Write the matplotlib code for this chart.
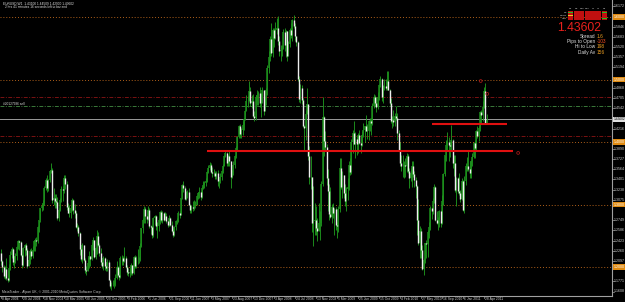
import matplotlib
matplotlib.use("Agg")
import matplotlib.pyplot as plt
import numpy as np
from matplotlib.patches import Rectangle

plt.rcParams['font.family'] = ['Liberation Sans', 'DejaVu Sans']

# ---------------- data: EURUSD weekly bars, Apr 2004 - May 2011 ----------------
first_open = 1.2220

c2004 = [1.2100,1.2000,1.1850,1.1970,1.1830,1.1790,1.1990,1.2200,1.2290,1.2080,1.2140,1.2170,1.2320,1.2410,1.2400,1.2190,1.2030,1.2300,1.2360,1.2280,1.2020,1.2110,1.2250,1.2170,1.2270,1.2420,1.2430,1.2420,1.2640,1.2750,1.2940,1.2970,1.3030,1.3270,1.3400,1.3270,1.3390,1.3530,1.3560]
h2004 = [1.2290,1.2120,1.2040,1.2010,1.2140,1.1960,1.2050,1.2250,1.2320,1.2300,1.2180,1.2220,1.2340,1.2440,1.2440,1.2420,1.2210,1.2320,1.2370,1.2390,1.2300,1.2200,1.2290,1.2300,1.2330,1.2430,1.2460,1.2480,1.2650,1.2760,1.2950,1.3010,1.3080,1.3300,1.3420,1.3470,1.3410,1.3560,1.3670]
l2004 = [1.2030,1.1920,1.1830,1.1810,1.1800,1.1760,1.1780,1.1960,1.2140,1.2030,1.1990,1.2060,1.2120,1.2290,1.2280,1.2170,1.1990,1.2010,1.2170,1.2200,1.1990,1.2010,1.2050,1.2130,1.2140,1.2250,1.2260,1.2330,1.2380,1.2560,1.2720,1.2890,1.2920,1.3000,1.3230,1.3200,1.3220,1.3360,1.3500]

c2005 = [1.3070,1.3110,1.3060,1.3040,1.2790,1.2910,1.3070,1.3250,1.3230,1.3420,1.3330,1.2960,1.2870,1.2870,1.2950,1.3080,1.2920,1.2860,1.2640,1.2640,1.2540,1.2290,1.2130,1.2350,1.2120,1.1950,1.1940,1.2070,1.2170,1.2130,1.2350,1.2430,1.2160,1.2300,1.2500,1.2360,1.2220,1.2080,1.2020,1.2140,1.2020,1.1980,1.2080,1.1800,1.1690,1.1720,1.1720,1.1710,1.1830,1.2000,1.1870,1.1840]
h2005 = [1.3580,1.3270,1.3170,1.3170,1.3120,1.2950,1.3110,1.3290,1.3290,1.3470,1.3480,1.3370,1.3020,1.2990,1.2990,1.3110,1.3090,1.3010,1.2890,1.2700,1.2680,1.2560,1.2310,1.2380,1.2350,1.2140,1.2020,1.2160,1.2250,1.2180,1.2400,1.2480,1.2440,1.2320,1.2590,1.2560,1.2380,1.2310,1.2130,1.2180,1.2160,1.2080,1.2130,1.2110,1.1810,1.1760,1.1800,1.1790,1.1890,1.2090,1.2020,1.1930]
l2005 = [1.3030,1.3000,1.2950,1.2950,1.2760,1.2730,1.2890,1.3040,1.3060,1.3180,1.3250,1.2920,1.2860,1.2800,1.2780,1.2900,1.2850,1.2780,1.2620,1.2570,1.2500,1.2190,1.2090,1.2060,1.2090,1.1910,1.1870,1.1940,1.1980,1.2010,1.2120,1.2280,1.2150,1.2130,1.2210,1.2340,1.2170,1.2040,1.1990,1.1950,1.1960,1.1940,1.1930,1.1790,1.1670,1.1640,1.1700,1.1660,1.1690,1.1810,1.1850,1.1800]

c2006 = [1.2140,1.2140,1.2100,1.2150,1.2000,1.1920,1.1900,1.1920,1.2040,1.1900,1.2160,1.2020,1.2120,1.2120,1.2110,1.2340,1.2620,1.2750,1.2930,1.2820,1.2770,1.2920,1.2650,1.2640,1.2510,1.2790,1.2810,1.2650,1.2650,1.2750,1.2880,1.2760,1.2870,1.2760,1.2810,1.2740,1.2680,1.2790,1.2680,1.2570,1.2520,1.2640,1.2740,1.2730,1.2870,1.2830,1.3100,1.3320,1.3260,1.3090,1.3150,1.3200]
h2006 = [1.2180,1.2190,1.2170,1.2320,1.2170,1.2030,1.1980,1.1990,1.2070,1.2040,1.2180,1.2190,1.2180,1.2290,1.2160,1.2380,1.2630,1.2780,1.2980,1.2960,1.2910,1.2980,1.2940,1.2670,1.2650,1.2800,1.2840,1.2830,1.2720,1.2780,1.2890,1.2920,1.2900,1.2880,1.2880,1.2870,1.2760,1.2830,1.2800,1.2740,1.2620,1.2650,1.2760,1.2790,1.2890,1.2900,1.3110,1.3330,1.3370,1.3300,1.3210,1.3230]
l2006 = [1.1820,1.2030,1.2030,1.2080,1.1980,1.1880,1.1860,1.1840,1.1880,1.1880,1.1890,1.1990,1.1980,1.2050,1.2070,1.2100,1.2320,1.2550,1.2700,1.2700,1.2700,1.2750,1.2630,1.2530,1.2460,1.2480,1.2680,1.2590,1.2460,1.2580,1.2690,1.2720,1.2710,1.2730,1.2750,1.2700,1.2640,1.2650,1.2650,1.2560,1.2480,1.2500,1.2600,1.2690,1.2720,1.2780,1.2830,1.3090,1.3200,1.3070,1.3080,1.3110]

c2007 = [1.3000,1.2920,1.2960,1.2940,1.3000,1.3000,1.3130,1.3180,1.3200,1.3120,1.3270,1.3320,1.3350,1.3380,1.3520,1.3590,1.3630,1.3520,1.3500,1.3510,1.3450,1.3510,1.3370,1.3380,1.3440,1.3540,1.3620,1.3780,1.3820,1.3670,1.3780,1.3690,1.3440,1.3510,1.3630,1.3780,1.3900,1.4080,1.4260,1.4130,1.4190,1.4280,1.4370,1.4500,1.4650,1.4650,1.4820,1.4630,1.4650,1.4420,1.4380,1.4720]
h2007 = [1.3260,1.3010,1.2990,1.3050,1.3070,1.3060,1.3160,1.3200,1.3280,1.3220,1.3300,1.3380,1.3370,1.3420,1.3530,1.3630,1.3680,1.3660,1.3600,1.3570,1.3530,1.3530,1.3560,1.3410,1.3510,1.3550,1.3650,1.3800,1.3850,1.3840,1.3800,1.3850,1.3700,1.3560,1.3700,1.3800,1.3930,1.4100,1.4280,1.4290,1.4230,1.4340,1.4390,1.4520,1.4750,1.4730,1.4970,1.4880,1.4750,1.4770,1.4490,1.4750]
l2007 = [1.2990,1.2870,1.2860,1.2900,1.2910,1.2940,1.2990,1.3090,1.3110,1.3080,1.3100,1.3250,1.3260,1.3300,1.3360,1.3500,1.3560,1.3500,1.3440,1.3460,1.3410,1.3410,1.3300,1.3260,1.3350,1.3390,1.3500,1.3610,1.3760,1.3620,1.3610,1.3620,1.3260,1.3420,1.3480,1.3580,1.3750,1.3870,1.4060,1.4070,1.4060,1.4120,1.4200,1.4350,1.4490,1.4560,1.4650,1.4570,1.4550,1.4400,1.4330,1.4360]

c2008 = [1.4750,1.4780,1.4630,1.4680,1.4830,1.4500,1.4680,1.4830,1.5180,1.5360,1.5650,1.5430,1.5800,1.5670,1.5800,1.5820,1.5620,1.5450,1.5480,1.5510,1.5760,1.5550,1.5770,1.5380,1.5570,1.5790,1.5710,1.5950,1.5860,1.5700,1.5600,1.5010,1.4690,1.4860,1.4670,1.4260,1.4220,1.4450,1.4610,1.3770,1.3440,1.3440,1.2710,1.2740,1.2750,1.2630,1.2580,1.2700,1.2710,1.3330,1.4400,1.4010]
h2008 = [1.4830,1.4820,1.4880,1.4790,1.4880,1.4840,1.4720,1.4870,1.5240,1.5460,1.5700,1.5910,1.5820,1.5820,1.5920,1.5990,1.6020,1.5690,1.5560,1.5560,1.5810,1.5820,1.5790,1.5760,1.5620,1.5820,1.5910,1.5970,1.6040,1.5910,1.5700,1.5610,1.5050,1.4930,1.4910,1.4710,1.4280,1.4520,1.4870,1.4610,1.3930,1.3780,1.3440,1.3290,1.3030,1.2970,1.2790,1.3030,1.2900,1.3380,1.4720,1.4420]
l2008 = [1.4600,1.4600,1.4560,1.4400,1.4630,1.4440,1.4490,1.4600,1.4750,1.5110,1.5300,1.5380,1.5360,1.5520,1.5650,1.5730,1.5560,1.5380,1.5290,1.5370,1.5490,1.5460,1.5360,1.5290,1.5370,1.5520,1.5670,1.5620,1.5820,1.5620,1.5530,1.4980,1.4640,1.4620,1.4610,1.4240,1.3880,1.4040,1.4450,1.3720,1.3330,1.3250,1.2560,1.2330,1.2520,1.2520,1.2420,1.2600,1.2430,1.2660,1.3300,1.3770]

c2009 = [1.3920,1.3430,1.3210,1.2850,1.2800,1.2960,1.2870,1.2930,1.2670,1.2660,1.2930,1.3580,1.3280,1.3470,1.3190,1.3050,1.3250,1.3280,1.3640,1.3520,1.4000,1.4150,1.3970,1.4050,1.3970,1.4110,1.3990,1.3950,1.4110,1.4200,1.4250,1.4180,1.4180,1.4330,1.4330,1.4300,1.4570,1.4720,1.4620,1.4560,1.4720,1.4910,1.5010,1.4720,1.4860,1.4900,1.4870,1.4970,1.4840,1.4620,1.4330,1.4360]
h2009 = [1.4170,1.3970,1.3570,1.3330,1.3280,1.3010,1.3020,1.2940,1.2960,1.2720,1.2980,1.3740,1.3740,1.3540,1.3460,1.3330,1.3280,1.3430,1.3700,1.3740,1.4050,1.4190,1.4340,1.4160,1.4100,1.4150,1.4190,1.4110,1.4180,1.4300,1.4260,1.4440,1.4290,1.4350,1.4380,1.4390,1.4630,1.4770,1.4750,1.4720,1.4800,1.4930,1.5060,1.5020,1.4920,1.5010,1.5010,1.5140,1.5140,1.4850,1.4710,1.4420]
l2009 = [1.3850,1.3320,1.2890,1.2760,1.2780,1.2710,1.2790,1.2520,1.2590,1.2460,1.2560,1.2880,1.3250,1.3110,1.3100,1.2980,1.2890,1.3070,1.3230,1.3480,1.3490,1.3820,1.3970,1.3750,1.3790,1.3820,1.3970,1.3830,1.3930,1.4080,1.4000,1.4170,1.4050,1.4040,1.4170,1.4110,1.4280,1.4550,1.4570,1.4480,1.4530,1.4670,1.4880,1.4650,1.4630,1.4840,1.4830,1.4830,1.4830,1.4600,1.4310,1.4220]

c2010 = [1.4320,1.4410,1.4380,1.4140,1.3870,1.3670,1.3620,1.3620,1.3630,1.3620,1.3770,1.3530,1.3420,1.3500,1.3620,1.3490,1.3390,1.3290,1.2760,1.2390,1.2570,1.2270,1.1970,1.2110,1.2380,1.2370,1.2560,1.2640,1.2940,1.2900,1.3050,1.3280,1.2750,1.2710,1.2750,1.2900,1.2710,1.3060,1.3490,1.3790,1.3950,1.4000,1.3960,1.3940,1.4030,1.3670,1.3670,1.3240,1.3420,1.3220,1.3190,1.3090,1.3380]
h2010 = [1.4510,1.4460,1.4580,1.4460,1.4200,1.4000,1.3800,1.3790,1.3700,1.3740,1.3820,1.3810,1.3590,1.3590,1.3700,1.3690,1.3530,1.3440,1.3310,1.3090,1.2660,1.2630,1.2350,1.2150,1.2390,1.2430,1.2590,1.2720,1.2970,1.2960,1.3110,1.3330,1.3290,1.2900,1.2800,1.2920,1.2920,1.3160,1.3510,1.3800,1.4030,1.4160,1.4080,1.4000,1.4280,1.4050,1.3790,1.3790,1.3440,1.3440,1.3500,1.3240,1.3430]
l2010 = [1.4260,1.4260,1.4350,1.4030,1.3860,1.3620,1.3530,1.3440,1.3430,1.3440,1.3520,1.3500,1.3270,1.3370,1.3280,1.3440,1.3280,1.3110,1.2520,1.2350,1.2150,1.2140,1.1950,1.1880,1.2060,1.2150,1.2160,1.2470,1.2590,1.2770,1.2850,1.3030,1.2730,1.2690,1.2590,1.2640,1.2640,1.2690,1.3000,1.3450,1.3690,1.3860,1.3700,1.3760,1.3860,1.3590,1.3450,1.3200,1.2970,1.3180,1.3160,1.3040,1.3070]

c2011 = [1.2910,1.3380,1.3620,1.3620,1.3570,1.3510,1.3700,1.3760,1.3990,1.3900,1.4180,1.4090,1.4230,1.4480,1.4430,1.4560,1.4810,1.4310,1.4360]
h2011 = [1.3400,1.3460,1.3660,1.3760,1.3860,1.3690,1.3710,1.3830,1.4000,1.4030,1.4190,1.4250,1.4250,1.4490,1.4520,1.4650,1.4880,1.4940,1.4450]
l2011 = [1.2900,1.2870,1.3310,1.3540,1.3530,1.3430,1.3430,1.3610,1.3750,1.3750,1.3860,1.4060,1.4020,1.4170,1.4310,1.4330,1.4540,1.4300,1.4290]

date_labels = ["8 Apr 2004", "29 Jul 2004", "18 Nov 2004", "10 Mar 2005", "30 Jun 2005",
               "20 Oct 2005", "9 Feb 2006", "1 Jun 2006", "21 Sep 2006", "11 Jan 2007",
               "3 May 2007", "23 Aug 2007", "13 Dec 2007", "3 Apr 2008", "24 Jul 2008",
               "13 Nov 2008", "5 Mar 2009", "25 Jun 2009", "15 Oct 2009", "4 Feb 2010",
               "27 May 2010", "16 Sep 2010", "6 Jan 2011", "28 Apr 2011"]
bars_per_label = 16

round_levels = [1.2000, 1.3000, 1.4000, 1.5000, 1.6000]
stop_levels = [1.4717, 1.4089]
order_level = 1.4572
bid = 1.43602
trend_levels = [1.3863, 1.4290]
trend_start = [157, 328]
trend_end = [390, 385.5]
marker_idx = [365.5, 370.5, 394]
marker_price = [1.4976, 1.4770, 1.3825]

axis_ticks = ["1.5194", "1.4868", "1.4705", "1.4542", "1.4216", "1.3890", "1.3727", "1.3564",
              "1.3401", "1.3238", "1.3075", "1.2749", "1.2586", "1.2423", "1.2260", "1.2097",
              "1.1771", "1.1608", "1.5357", "1.5520", "1.5683", "1.5846", "1.6172"]

stat_names = ["Spread", "Pips to Open", "Hi to Low", "Daily Av"]
stat_values = ["1.6", "-103", "198", "156"]
tf_names = ["M1", "M5", "M15", "M30", "H1", "H4", "D1"]
row_names = ["MA", "MACD", "STR"]
grid_states = [["g", "r", "r", "r", "r", "r", "g"],
               ["y", "r", "r", "r", "r", "r", "r"],
               ["r", "r", "r", "r", "r", "r", "g"]]

# ---------------- assemble ----------------
closes = np.array(c2004 + c2005 + c2006 + c2007 + c2008 + c2009 + c2010 + c2011)
highs = np.array(h2004 + h2005 + h2006 + h2007 + h2008 + h2009 + h2010 + h2011)
lows = np.array(l2004 + l2005 + l2006 + l2007 + l2008 + l2009 + l2010 + l2011)
opens = np.concatenate([[first_open], closes[:-1]])
highs = np.maximum(highs, np.maximum(opens, closes))
lows = np.minimum(lows, np.minimum(opens, closes))
idx = np.arange(len(closes))

W, H = 625, 302
fig = plt.figure(figsize=(W / 100, H / 100), dpi=100, facecolor='black')
ax_bot_px, ax_right_px = 296, 612
ax = fig.add_axes([0, (H - ax_bot_px) / H, ax_right_px / W, ax_bot_px / H])
ax.set_facecolor('black')

px_per_bar = 1.3125
x0 = 1.0
ax.set_xlim((0 - x0) / px_per_bar, (ax_right_px - x0) / px_per_bar)
p_per_px = 0.0016
ax.set_ylim(1.60 - (ax_bot_px - 17) * p_per_px, 1.60 + 17 * p_per_px)

for s in ['top', 'left']:
    ax.spines[s].set_visible(False)
for s in ['right', 'bottom']:
    ax.spines[s].set_color('#a0a0a0')
    ax.spines[s].set_linewidth(0.8)
ax.set_yticks([])
ax.set_xticks([])

# horizontal levels
for lv in round_levels:
    ax.axhline(lv, color='#b0601a', lw=0.7, ls=(0, (1, 2)), zorder=1)
for lv in stop_levels:
    ax.axhline(lv, color='#7a1212', lw=0.7, ls=(0, (4, 1.5, 1, 1.5)), zorder=1)
ax.axhline(order_level, color='#3a7a3a', lw=0.7, ls=(0, (4, 1.5, 1, 1.5)), zorder=1)
ax.axhline(bid, color='#9a9a9a', lw=0.7, zorder=1)

# candles
up = closes >= opens
ax.vlines(idx, lows, highs, color='#20a020', lw=0.6, zorder=2)
ax.vlines(idx[up], opens[up], closes[up], color='#1c901c', lw=1.1, zorder=3)
ax.vlines(idx[~up], closes[~up], opens[~up], color='#eeeeee', lw=1.0, zorder=3)

# trend lines / markers
for lv, a, b in zip(trend_levels, trend_start, trend_end):
    ax.plot([a, b], [lv, lv], color='#e01010', lw=1.5, solid_capstyle='butt', zorder=4)
ax.scatter(marker_idx, marker_price, s=4, facecolors='none', edgecolors='#a01818', lw=0.6, zorder=5)

# x axis labels
xt = ax.get_xaxis_transform()
for k, lab in enumerate(date_labels):
    xi = k * bars_per_label
    ax.plot([xi, xi], [0, -0.008], transform=xt, color='#a0a0a0', lw=0.5, clip_on=False)
    ax.text(xi + 1.0, -0.005, lab, transform=xt, fontsize=2.4, color='#d0d0d0',
            ha='left', va='top', clip_on=False)

# right axis labels
yt = ax.get_yaxis_transform()
for s in axis_ticks:
    v = float(s)
    ax.plot([1.0, 1.003], [v, v], transform=yt, color='#a0a0a0', lw=0.5, clip_on=False)
    ax.text(1.003, v, s, transform=yt, fontsize=2.6, color='#d0d0d0', ha='left',
            va='center', clip_on=False)
for lv in round_levels:
    ax.text(1.003, lv, "%.4f" % lv, transform=yt, fontsize=2.6, color='white', ha='left',
            va='center', clip_on=False,
            bbox=dict(boxstyle='square,pad=0.2', fc='#e08a10', ec='none'))
ax.text(1.003, bid, "%.5f" % bid, transform=yt, fontsize=2.3, color='black', ha='left',
        va='center', clip_on=False,
        bbox=dict(boxstyle='square,pad=0.2', fc='#e0e0e0', ec='none'))


def fx(x):
    return x / W


def fy(y):
    return 1 - y / H


# title
fig.text(fx(3), fy(3.5), "EURUSD,W1  1.43100 1.44509 1.42900 1.43602", fontsize=2.3,
         color='#e0e0e0', ha='left', va='center')
fig.text(fx(5), fy(7.5), "2 hrs 41 minutes 16 seconds left to bar end", fontsize=2.3,
         color='#e0e0e0', ha='left', va='center')
fig.text(fx(3), fy(104), "#20127986 sell", fontsize=2.3, color='#d8d8d8', ha='left', va='center')
fig.text(fx(2), fy(292), "MetaTrader - Alpari UK, \u00a9 2001-2010 MetaQuotes Software Corp.",
         fontsize=2.4, color='#d0d0d0', ha='left', va='center')

# indicator grid top-right
cell_col = {'r': '#d01818', 'g': '#22c022', 'y': '#e8d020'}
gx0, gy0, cw, ch = 568, 11, 5.6, 3.0
for j, name in enumerate(tf_names):
    fig.text(fx(gx0 + j * cw + cw / 2), fy(8.5), name, fontsize=1.7, color='#e0e0e0',
             ha='center', va='center')
for r, rn in enumerate(row_names):
    fig.text(fx(gx0 - 1), fy(gy0 + r * ch + ch / 2), rn, fontsize=1.7, color='#e0e0e0',
             ha='right', va='center')
    for j, st in enumerate(grid_states[r]):
        fig.add_artist(Rectangle((fx(gx0 + j * cw), fy(gy0 + (r + 1) * ch)), (cw - 0.5) / W,
                                 (ch - 0.4) / H, transform=fig.transFigure,
                                 facecolor='#c01010', edgecolor='none'))
        if st != 'r':
            fig.add_artist(Rectangle((fx(gx0 + j * cw), fy(gy0 + r * ch + ch * 0.75)),
                                     (cw - 0.5) / W, (ch * 0.45) / H,
                                     transform=fig.transFigure,
                                     facecolor=cell_col[st], edgecolor='none'))

fig.text(fx(601), fy(28), "%.5f" % bid, fontsize=8.8, color='#e8201c', ha='right', va='center')
for k, (n, v) in enumerate(zip(stat_names, stat_values)):
    yy = 36.5 + k * 5.2
    fig.text(fx(595), fy(yy), n, fontsize=3.4, color='#e0e0e0', ha='right', va='center')
    fig.text(fx(597), fy(yy), v, fontsize=3.4, color='#f0a020' if k != 1 else '#ff5020',
             ha='left', va='center')

fig.savefig("out.png", dpi=100, facecolor='black')
